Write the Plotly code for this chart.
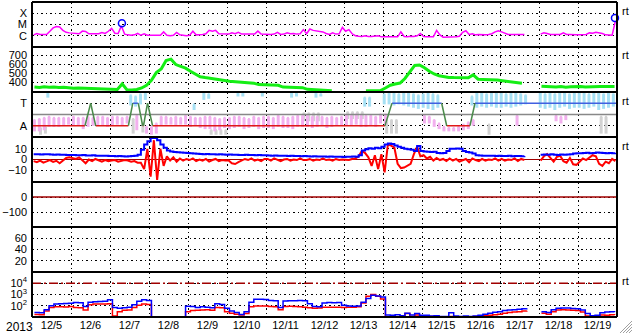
import pandas as pd
import plotly.graph_objects as go
from plotly.subplots import make_subplots

N = None
START = "2013-12-05 00:00"
END = "2013-12-20 00:00"
YEAR_LABEL = "2013"
DAY_LABELS = ["12/5", "12/6", "12/7", "12/8", "12/9", "12/10", "12/11", "12/12",
              "12/13", "12/14", "12/15", "12/16", "12/17", "12/18", "12/19"]

# ---- X-ray flux, 2-hour values, in units of 1e-6 W/m^2 (C1 = 1)
XRAY = [
    1.2, 1.6, 1.3, 1.4, 1.3, 2.5, 5.0, 6.5, 6.0, 3.0, 2.0, 1.8,
    1.7, 1.6, 1.5, 2.6, 2.4, 1.5, 1.5, 1.6, 1.5, 1.9, 1.6, 2.5,
    4.5, 1.7, 1.6, 7.5, 1.4, 1.2, 1.1, 1.2, 1.6, 1.1, 1.5, 1.1,
    1.1, 1.0, 1.1, 1.1, 2.2, 1.1, 1.0, 1.1, 2.0, 1.2, 1.1, 1.0,
    1.1, 2.5, 1.2, 1.2, 1.3, 1.5, 3.0, 2.5, 3.0, 1.5, 1.4, 1.3,
    1.4, 1.8, 1.5, 2.0, 1.4, 1.4, 1.3, 1.4, 1.4, 2.6, 1.4, 1.3,
    1.3, 1.3, 1.4, 2.0, 1.3, 1.4, 1.8, 1.5, 1.6, 1.4, 1.5, 3.5,
    1.5, 4.0, 3.0, 2.8, 2.5, 2.2, 1.6, 1.3, 1.8, 1.4, 1.5, 5.5,
    2.5, 3.5, 1.5, 1.0, 0.9, 0.85, 1.0, 0.85, 0.85, 0.9, 1.0, 0.8,
    0.8, 0.85, 0.8, 0.9, 0.8, 2.2, 0.85, 0.8, 0.9, 0.85, 1.0, 1.6,
    0.85, 0.8, 0.75, 0.8, 3.0, 1.2, 0.75, 0.75, 0.75, 0.75, 0.8, 0.9,
    2.0, 2.8, 1.3, 1.5, 1.2, 1.3, 1.2, 1.2, 1.3, 1.5, 2.2, 2.8,
    2.2, 1.6, 1.3, 1.3, 1.3, 1.4, 1.3, 1.3, N, N, N, N,
    1.4, 1.8, 1.6, 1.3, 1.3, 1.3, 1.3, 1.8, 1.3, 1.3, 1.2, 1.2,
    1.2, 1.3, 1.3, 1.8, 1.7, 2.0, 1.8, 1.6, 1.2, 1.1, 1.1, 20.0,
]
FLARE_TIMES = ["2013-12-07 07:20", "2013-12-19 22:45"]
FLARE_PEAKS = [12.8, 38.0]   # 1e-6 W/m^2

# ---- Solar wind speed, 3-hour values (km/s)
WIND = [
    345, 340, 348, 342, 345, 340, 344, 338,
    333, 335, 332, 334, 330, 328, 326, 325,
    320, 318, 380, 312, 313, 318, 335, 365,
    420, 505, 545, 640, 655, 595, 575, 555,
    520, 490, 460, 450, 440, 435, 428, 418,
    410, 405, 400, 395, 392, 388, 372, 368,
    367, 366, 364, 345, 342, 340, 340, 338,
    320, 316, 312, 310, 307, 305, N, N,
    N, N, N, N, 304, 303, 305, 306,
    335, 365, 378, 390, 440, 510, 585, 590,
    560, 520, 490, 470, 460, 452, 450, 452,
    450, 448, 480, 432, 430, 428, 428, 422,
    415, 408, 400, 395, 388, N, N, N,
    355, 350, 348, 345, 350, 343, 348, 352,
    350, 345, 350, 355, 352, 350, 348, 350,
]

# ---- IMF sector (A = 1 away, T = 3 toward); hours since 12/5 00UT
SECTOR_HOURS = [0, 32.6, 36.1, 39.2, 59.3, 62.0, 65.4, 68.1, 68.6, 71.1, 74.2,
                217.2, 221.5, 252.1, 255.2, 269.5, 272.6, 360]
SECTOR_LEVEL = [1, 1, 3, 1, 1, 3, 3, 1, 1, 3, 1, 1, 3, 3, 1, 1, 3, 3]

# ---- IMF direction cloud, 3-hour ranges (panel units: A=1, T=3)
AWAY_LO = [
    0.5, 0.5, 0.6, 0.9, 0.9, 0.9, 1.0, 1.1,
    1.0, 1.0, 0.7, 0.9, 1.0, 1.0, 1.0, 0.9,
    1.0, 1.1, 1.0, 1.2, N, 0.6, N, 0.3,
    0.2, 0.3, 1.0, 1.1, 1.1, 1.0, 1.1, 1.1,
    0.9, 1.0, 0.8, 0.7, 0.7, 0.5, 0.6, 0.8,
    0.7, 0.8, 0.9, 0.7, 0.8, 0.9, 0.7, 0.8,
    0.8, 0.7, 0.9, 0.8, 0.8, 0.7, 0.9, 0.9,
    0.9, 0.8, 0.9, 1.0, 0.8, 0.9, 1.0, 1.0,
    1.0, 1.0, 1.1, 0.9, 0.9, 1.0, 0.9, 1.2,
    1.1, N, N, N, N, N, N, N,
    1.2, 1.2, 0.9, 0.7, 0.5, 0.5, 0.5, 0.5,
    0.6, 0.7, 1.0, N, N, N, N, N,
    N, N, N, 1.0, N, N, N, N,
    N, N, N, 1.4, 1.2, 1.5, N, N,
    N, N, N, N, N, N, N, N,
]
AWAY_HI = [
    1.5, 1.6, 1.7, 1.8, 1.7, 1.7, 1.7, 1.7,
    1.8, 1.7, 1.7, 1.8, 1.7, 1.8, 1.8, 1.7,
    1.8, 1.8, 1.7, 1.8, N, 1.9, N, 0.9,
    0.9, 1.2, 1.8, 1.8, 1.7, 1.8, 1.7, 1.9,
    1.8, 1.7, 1.7, 1.8, 1.8, 1.7, 1.6, 1.7,
    1.7, 1.8, 1.8, 1.7, 1.6, 1.8, 1.7, 1.8,
    1.8, 1.7, 1.9, 1.8, 1.7, 1.8, 1.9, 1.9,
    1.9, 1.8, 1.8, 1.8, 1.7, 1.8, 1.7, 1.8,
    1.9, 1.9, 2.0, 1.9, 1.9, 1.9, 1.8, 2.0,
    2.0, N, N, N, N, N, N, N,
    1.9, 1.8, 1.5, 1.2, 0.9, 0.8, 0.8, 0.9,
    1.1, 1.3, 1.5, N, N, N, N, N,
    N, N, N, 1.9, N, N, N, N,
    N, N, N, 1.9, 1.8, 1.9, N, N,
    N, N, N, N, N, N, N, N,
]
TOW_LO = [
    N, N, N, 3.5, N, N, N, N,
    N, N, N, N, N, N, N, N,
    N, N, N, N, 2.8, 2.7, 2.9, 3.3,
    N, N, N, N, N, N, N, N,
    N, 2.4, N, 3.3, 3.4, N, N, N,
    N, N, 3.6, 3.6, N, N, N, 3.6,
    N, N, N, N, N, 3.5, 3.6, N,
    N, N, 3.5, 3.6, N, N, N, N,
    N, N, N, N, 2.7, 2.7, N, N,
    2.9, 2.9, 2.8, 2.9, 2.8, 2.7, 2.6, 2.5,
    2.6, 2.5, 2.4, 2.6, N, N, N, N,
    N, N, 2.8, 2.6, 2.7, 2.6, 2.7, 2.6,
    2.6, 2.7, 2.6, 2.7, 2.8, 2.9, N, N,
    2.6, 2.5, 2.6, 2.4, 2.6, 2.7, 2.5, 2.6,
    2.6, 2.5, 2.6, 2.7, 2.4, 2.5, 2.6, 2.7,
]
TOW_HI = [
    N, N, N, 3.9, N, N, N, N,
    N, N, N, N, N, N, N, N,
    N, N, N, N, 3.7, 3.6, 3.8, 3.9,
    N, N, N, N, N, N, N, N,
    N, 2.9, N, 3.9, 3.8, N, N, N,
    N, N, 3.9, 3.9, N, N, N, 3.9,
    N, N, N, N, N, 3.9, 3.9, N,
    N, N, 3.9, 3.8, N, N, N, N,
    N, N, N, N, 3.5, 3.5, N, N,
    3.8, 3.9, 3.9, 3.8, 3.9, 3.9, 3.8, 3.7,
    3.8, 3.9, 3.8, 3.7, N, N, N, N,
    N, N, 3.6, 3.9, 3.9, 3.8, 3.9, 3.9,
    3.9, 3.8, 3.9, 3.9, 3.8, 3.7, N, N,
    3.9, 3.8, 3.9, 3.8, 3.9, 3.9, 3.8, 3.9,
    3.9, 3.9, 3.8, 3.9, 3.9, 3.8, 3.9, 3.8,
]
GREY_LO = [
    N, 0.2, 0.3, N, N, N, N, N,
    N, N, N, N, N, N, N, N,
    N, N, N, N, 0.3, N, 0.4, N,
    N, N, N, N, N, N, N, N,
    N, N, N, N, 0.2, 0.2, 0.2, 0.2,
    N, N, N, N, N, N, N, N,
    N, N, N, N, N, N, N, 1.4,
    1.4, 1.4, 1.4, N, N, N, N, N,
    1.6, 1.6, 1.6, 1.6, N, N, N, N,
    0.3, 0.3, 0.3, N, N, N, N, N,
    N, N, N, N, N, N, N, N,
    N, N, N, N, N, 0.2, N, N,
    N, N, N, N, N, N, N, N,
    N, N, N, N, N, N, N, N,
    N, N, N, N, 0.3, 0.3, N, N,
]
GREY_HI = [
    N, 0.8, 0.9, N, N, N, N, N,
    N, N, N, N, N, N, N, N,
    N, N, N, N, 1.6, N, 1.2, N,
    N, N, N, N, N, N, N, N,
    N, N, N, N, 0.6, 0.6, 0.6, 0.6,
    N, N, N, N, N, N, N, N,
    N, N, N, N, N, N, N, 2.1,
    2.1, 2.1, 2.1, N, N, N, N, N,
    2.2, 2.2, 2.2, 2.2, N, N, N, N,
    1.5, 1.5, 1.5, N, N, N, N, N,
    N, N, N, N, N, N, N, N,
    N, N, N, N, N, 1.1, N, N,
    N, N, N, N, N, N, N, N,
    N, N, N, N, N, N, N, N,
    N, N, N, N, 1.8, 1.8, N, N,
]

# ---- IMF Bt and Bz, 2-hour values (nT)
BT = [
    5.0, 4.8, 4.6, 4.9, 5.0, 4.7, 4.5, 4.6, 4.4, 4.5, 4.3, 4.2,
    4.2, 4.0, 3.9, 4.1, 3.8, 3.7, 3.9, 3.6, 3.5, 3.4, 3.5, 3.3,
    3.2, 3.0, 3.3, 3.1, 2.9, 3.0, 3.2, 3.5, 4.5, 9.0, 14.0, 17.0,
    20.0, 20.0, 18.0, 14.0, 11.0, 8.5, 7.5, 7.0, 6.8, 6.5, 6.3, 6.0,
    5.8, 5.5, 5.3, 5.2, 5.0, 5.1, 4.8, 4.9, 4.7, 4.8, 4.6, 4.5,
    4.6, 4.4, 4.5, 4.3, 4.2, 4.4, 4.1, 4.3, 4.0, 4.2, 3.9, 4.0,
    3.8, 3.6, 3.7, 3.5, 3.4, 3.6, 3.3, 3.4, 3.2, 3.3, 3.1, 3.2,
    3.0, 2.9, 3.0, 2.8, 2.7, 2.8, 2.6, 2.7, 2.5, 2.6, 2.5, 2.4,
    2.6, 2.5, 2.7, 2.6, 4.0, 8.5, 9.5, 10.5, 10.0, 11.0, 10.5, 12.0,
    14.0, 15.0, 14.5, 13.0, 12.0, 11.0, 10.0, 9.5, 9.0, 8.0, 12.5, 8.0,
    7.5, 7.2, 7.0, 7.3, 6.0, 5.8, 6.0, 8.0, 10.0, 10.0, 10.2, 10.0,
    8.0, 7.0, 6.5, 5.5, 4.0, 3.8, 3.5, 3.6, 3.4, 3.5, 3.3, 3.4,
    3.3, 3.2, 3.4, 3.1, 3.3, 3.2, 3.0, 3.2, N, N, N, N,
    4.5, 4.6, 4.4, 4.8, 4.5, 4.3, 4.6, 4.4, 4.7, 4.9, 5.5, 5.8,
    5.8, 6.0, 6.2, 5.9, 6.0, 6.5, 6.3, 6.0, 5.8, 6.1, 5.9, 6.0,
]
BZ = [
    -1.5, -2.5, -1.0, -3.0, -1.8, -0.5, -2.2, -1.2, -3.5, -1.0, 1.5, 2.0,
    1.5, 0.5, 2.0, -0.5, -3.5, 0.0, -1.5, 0.5, -1.0, -2.0, -0.5, -1.5,
    -1.0, -0.5, -2.0, -1.5, -0.5, -1.0, -2.0, -1.5, -3.0, -3.0, -9.0, 10.0,
    -16.0, 18.0, -19.0, 10.0, -6.0, 3.0, -1.0, 2.0, -2.0, 1.0, -1.0, 0.5,
    -0.5, 1.0, -1.5, 0.0, -1.0, 0.5, -2.0, -0.5, 0.5, -1.5, -0.5, -1.0,
    -1.0, -3.5, -4.2, -2.5, -1.0, 0.5, -0.5, 1.0, -1.0, 0.0, -1.5, 0.5,
    0.5, -1.0, 1.0, -0.5, -1.5, 0.0, 0.5, -1.0, 0.0, -0.5, 1.0, -0.5,
    -0.5, 0.5, -1.0, 0.0, -0.5, 1.0, -0.5, 0.0, -1.0, 0.5, -0.5, 0.0,
    0.0, -0.5, 0.5, 1.0, 3.0, 8.0, 6.0, 2.0, -6.0, 4.0, -9.0, 5.0,
    -12.0, 14.0, 13.0, 11.0, -4.0, -8.0, -7.5, -6.0, -4.0, 5.0, 12.0, 3.0,
    4.0, 1.0, 2.5, -1.0, 1.5, -0.5, 0.5, -1.5, 1.0, -1.0, 0.5, -2.0,
    -1.0, 0.5, -2.5, 1.0, -0.5, -1.5, 0.5, -1.0, 0.0, -0.5, 1.0, -1.0,
    0.5, -1.0, 0.0, -0.5, 1.0, -1.5, 0.5, -0.5, N, N, N, N,
    -1.0, 3.0, 5.0, 1.0, -2.0, 2.5, 3.5, -1.5, -3.0, 1.5, -4.5, -5.0,
    -2.0, 1.0, -0.5, 2.0, 4.0, 3.0, -4.0, -6.0, -2.0, -3.5, 0.5, -1.5,
]

# ---- Proton flux, 3-hour values (two channels)
PROT_HI = [
    25, 24, 45, 100, 140, 150, 160, 170,
    190, 185, 85, 200, 230, 240, 250, 350,
    70, 60, 65, 75, 120, 250, 350, 300,
    5, N, N, N, N, N, 5, 90,
    85, 70, 80, 75, 65, 150, 130, 60,
    35, 25, 17, 30, 200, 370, 380, 360,
    300, 280, 70, 270, 280, 285, 290, 280,
    150, 85, 80, 180, 190, 185, 190, 110,
    95, 90, 95, 200, 450, 850, 750, 600,
    15, 14, 16, 13, 22, 15, 20, 14,
    14, 12, 13, 11, 11, 24, 12, 11,
    12, 11, 12, 14, 18, 22, 26, 30,
    38, 42, 45, 50, 55, 60, N, N,
    30, 25, 45, 60, 62, 62, 58, 55,
    42, 20, 13, 14, 24, 28, 30, 28,
]
PROT_LO = [
    17, 16, 35, 70, 80, 82, 78, 85,
    70, 65, 42, 120, 140, 145, 140, 150,
    12, 30, 40, 42, 70, 110, 140, 130,
    5, N, N, N, N, N, 5, 30,
    38, 40, 42, 45, 40, 70, 65, 30,
    22, 18, 15, 20, 80, 95, 95, 93,
    85, 80, 45, 85, 90, 85, 80, 75,
    65, 60, 62, 75, 72, 74, 73, 70,
    72, 75, 80, 180, 700, 1000, 700, 400,
    10.5, 11, 10.5, 12, 20, 11, 15, 11,
    12, 11, 12, 10.5, 10.5, 11, 10.5, 10.5,
    10.5, 10.5, 11, 12, 13, 14, 16, 18,
    22, 25, 28, 30, 34, 36, N, N,
    22, 18, 30, 42, 44, 42, 40, 38,
    28, 12, 10.5, 11, 15, 14, 16, 15,
]

# reference levels
SECTOR_MID = 2
BZ_ZERO = 0
DST_ZERO = 0
PROTON_ALERT = 1e4

# ---------------------------------------------------------------
t2 = pd.date_range("2013-12-05 01:00", periods=len(BT), freq="2h")
t3 = pd.date_range("2013-12-05 01:30", periods=len(WIND), freq="3h")
t3_tow = pd.date_range("2013-12-05 00:45", periods=len(TOW_LO), freq="3h")
t3_grey = pd.date_range("2013-12-05 02:15", periods=len(GREY_LO), freq="3h")
noon_ticks = pd.date_range("2013-12-05 12:00", periods=len(DAY_LABELS), freq="1D")
t0 = pd.Timestamp(START)
t1 = pd.Timestamp(END)
sector_t = [t0 + pd.Timedelta(hours=h) for h in SECTOR_HOURS]

MAG = "#ff00ff"
GREEN = "#14ee14"
LBLUE = "#a6e0f4"
PINK = "#f2b0ee"
LGREY = "#d2d2d2"
DARKRED = "#a00000"
FONT = "Liberation Sans, Arial, sans-serif"
FS = 11

fig = make_subplots(rows=7, cols=1, shared_xaxes=True, vertical_spacing=0)

# panel 1 : X-ray
fig.add_trace(go.Scatter(x=t2, y=[None if v is None else v * 1e-6 for v in XRAY],
                         mode="lines", line=dict(color=MAG, width=1.5)), 1, 1)
fig.add_trace(go.Scatter(x=pd.to_datetime(FLARE_TIMES), y=[v * 1e-6 for v in FLARE_PEAKS],
                         mode="markers", cliponaxis=False,
                         marker=dict(symbol="circle-open", size=7, color="#0000ff",
                                     line=dict(width=1.5, color="#0000ff"))), 1, 1)

# panel 2 : wind speed
fig.add_trace(go.Scatter(x=t3, y=WIND, mode="lines",
                         line=dict(color=GREEN, width=3)), 2, 1)


# panel 3 : sector
def cloud(times, lo, hi, color, thick):
    ys, minus = [], []
    for a, b in zip(lo, hi):
        if a is None or b is None:
            ys.append(None)
            minus.append(0)
        else:
            ys.append(b)
            minus.append(b - a)
    return go.Scatter(x=times, y=ys, mode="markers",
                      marker=dict(size=2, color=color, symbol="square"),
                      error_y=dict(type="data", symmetric=False, array=[0] * len(ys),
                                   arrayminus=minus, color=color, thickness=thick, width=0))


fig.add_trace(cloud(t3_grey, GREY_LO, GREY_HI, LGREY, 3), 3, 1)
fig.add_trace(cloud(t3, AWAY_LO, AWAY_HI, PINK, 3), 3, 1)
fig.add_trace(cloud(t3_tow, TOW_LO, TOW_HI, LBLUE, 3), 3, 1)
fig.add_trace(go.Scatter(x=[t0, t1], y=[SECTOR_MID, SECTOR_MID], mode="lines",
                         line=dict(color="#888888", width=1.5)), 3, 1)

segs = {"A": ([], []), "T": ([], []), "X": ([], [])}
for i in range(len(SECTOR_HOURS) - 1):
    l0, l1 = SECTOR_LEVEL[i], SECTOR_LEVEL[i + 1]
    key = "A" if (l0 == l1 == 1) else ("T" if (l0 == l1 == 3) else "X")
    xs, ys = segs[key]
    xs += [sector_t[i], sector_t[i + 1], None]
    ys += [l0, l1, None]
for key, col in (("A", "#e01818"), ("T", "#4060e0"), ("X", "#4a8a4a")):
    fig.add_trace(go.Scatter(x=segs[key][0], y=segs[key][1], mode="lines",
                             line=dict(color=col, width=1.5)), 3, 1)

# panel 4 : Bt / Bz
fig.add_trace(go.Scatter(x=[t0, t1], y=[BZ_ZERO, BZ_ZERO], mode="lines",
                         line=dict(color=DARKRED, width=1.2)), 4, 1)
fig.add_trace(go.Scatter(x=t2, y=BZ, mode="lines", line=dict(color="#ff0000", width=2)), 4, 1)
fig.add_trace(go.Scatter(x=t2, y=BT, mode="lines", line=dict(color="#0000ff", width=2, shape="hv")), 4, 1)

# panel 5 : zero line
fig.add_trace(go.Scatter(x=[t0, t1], y=[DST_ZERO, DST_ZERO], mode="lines",
                         line=dict(color=DARKRED, width=1.5)), 5, 1)

# panel 6 : no data (empty trace keeps the axes drawn)
fig.add_trace(go.Scatter(x=[t0, t1], y=[None, None], mode="lines", hoverinfo="skip"), 6, 1)

# panel 7 : protons
fig.add_trace(go.Scatter(x=[t0, t1], y=[PROTON_ALERT, PROTON_ALERT], mode="lines",
                         line=dict(color=DARKRED, width=1.5, dash="9px,3px,2px,3px")), 7, 1)
fig.add_trace(go.Scatter(x=t3, y=PROT_LO, mode="lines", line=dict(color="#ff0000", width=1.5, shape="hv")), 7, 1)
fig.add_trace(go.Scatter(x=t3, y=PROT_HI, mode="lines", line=dict(color="#0000ff", width=1.5, shape="hv")), 7, 1)

GRID = dict(showgrid=True, gridcolor="black", gridwidth=1.2, griddash="1.5px,3px",
            zeroline=False, showline=False, ticks="", fixedrange=True,
            tickfont=dict(family=FONT, size=FS, color="black"), ticklabelstandoff=4)

fig.update_xaxes(range=[START, END], tickmode="array", tickvals=noon_ticks, ticktext=DAY_LABELS,
                 showgrid=False, zeroline=False, showline=False, ticks="",
                 tickfont=dict(family=FONT, size=FS, color="black"),
                 minor=dict(dtick=86400000, tick0=START, showgrid=True, gridcolor="black",
                            gridwidth=1.2, griddash="1.5px,3px"))
for r in range(1, 7):
    fig.update_xaxes(showticklabels=False, row=r, col=1)
fig.update_xaxes(showticklabels=True, row=7, col=1)

fig.update_yaxes(row=1, col=1, type="log", range=[-7, -3], tickvals=[1e-4, 1e-5, 1e-6],
                 ticktext=["X", "M", "C"], **GRID)
fig.update_yaxes(row=2, col=1, range=[290, 790], tickvals=[400, 500, 600, 700], **GRID)
fig.update_yaxes(row=3, col=1, range=[0, 4], tickvals=[1, 3], ticktext=["A", "T"], **GRID)
fig.update_yaxes(row=4, col=1, range=[-21, 21], tickvals=[-10, 0, 10], **GRID)
fig.update_yaxes(row=5, col=1, range=[-200, 100], tickvals=[-100, 0], **GRID)
fig.update_yaxes(row=6, col=1, range=[0, 80], tickvals=[20, 40, 60], **GRID)
fig.update_yaxes(row=7, col=1, type="log", range=[1, 5], tickvals=[1e2, 1e3, 1e4],
                 ticktext=["10<sup>2</sup>", "10<sup>3</sup>", "10<sup>4</sup>"], **GRID)

W, H, ML, MR, MT, MB = 633, 334, 32, 16, 2, 17
PW, PH = W - ML - MR, H - MT - MB


def px(x):
    return (x - ML) / PW


def py(y):
    return (H - MB - y) / PH


shapes = []
for k in range(8):
    shapes.append(dict(type="line", xref="paper", yref="paper", x0=0, x1=1, y0=k / 7, y1=k / 7,
                       line=dict(color="black", width=2), layer="above"))
for xx in (0, 1):
    shapes.append(dict(type="line", xref="paper", yref="paper", x0=xx, x1=xx, y0=0, y1=1,
                       line=dict(color="black", width=2), layer="above"))
for k in (3, 6, 9, 12):
    shapes.append(dict(type="line", xref="paper", yref="paper",
                       x0=px(632 - k), y0=py(333), x1=px(632), y1=py(333 - k),
                       line=dict(color="#a0a0a0", width=1)))

ann = [dict(text=YEAR_LABEL, xref="paper", yref="paper", x=px(4), y=py(327), xanchor="left",
            yanchor="middle", showarrow=False, font=dict(family=FONT, size=FS + 1, color="black"))]
for i in (0, 1, 2, 3, 6):
    ann.append(dict(text="rt", xref="paper", yref="paper", x=px(620), y=py(2 + 45 * i + 8.5),
                    xanchor="left", yanchor="middle", showarrow=False,
                    font=dict(family=FONT, size=11, color="black")))

fig.update_layout(width=W, height=H, margin=dict(l=ML, r=MR, t=MT, b=MB),
                  paper_bgcolor="white", plot_bgcolor="white", showlegend=False,
                  shapes=shapes, annotations=ann)

fig.write_html("out.html")
